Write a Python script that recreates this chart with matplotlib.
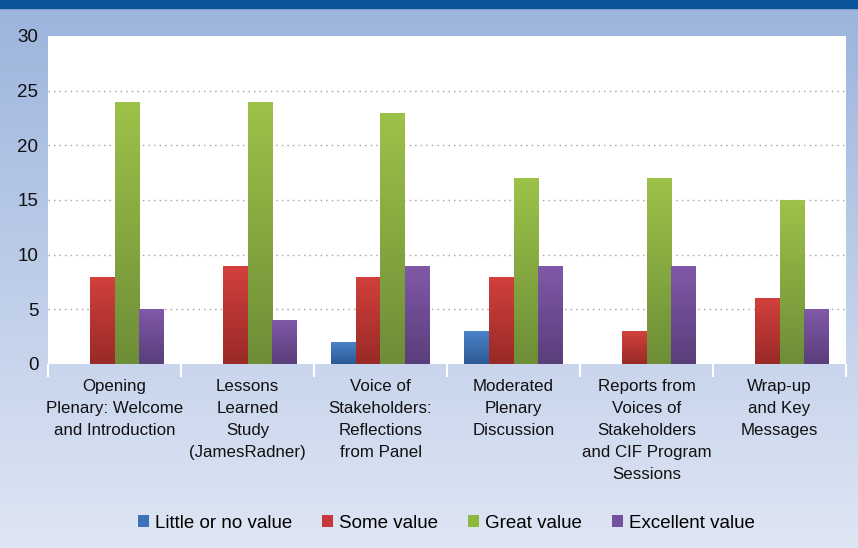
import numpy as np
import matplotlib.pyplot as plt
from matplotlib.colors import LinearSegmentedColormap
from matplotlib.patches import Patch

plt.rcParams['font.family'] = ['Liberation Sans', 'DejaVu Sans']

categories = ["Opening\nPlenary: Welcome\nand Introduction",
              "Lessons\nLearned\nStudy\n(JamesRadner)",
              "Voice of\nStakeholders:\nReflections\nfrom Panel",
              "Moderated\nPlenary\nDiscussion",
              "Reports from\nVoices of\nStakeholders\nand CIF Program\nSessions",
              "Wrap-up\nand Key\nMessages"]
series_names = ["Little or no value", "Some value", "Great value", "Excellent value"]
little = [0, 0, 2, 3, 0, 0]
some = [8, 9, 8, 8, 3, 6]
great = [24, 24, 23, 17, 17, 15]
excellent = [5, 4, 9, 9, 9, 5]
series = [little, some, great, excellent]

# top / bottom colours of each bar gradient
tops = ['#4c82c8', '#d2403c', '#9dc249', '#8059a8']
bottoms = ['#2c5a94', '#992a27', '#6d8e37', '#5a3e7b']
legend_colors = ['#3d71b8', '#c8383a', '#8db83e', '#7350a0']

fig = plt.figure(figsize=(8.58, 5.48), dpi=100)

# background gradient
bg = fig.add_axes([0, 0, 1, 1], zorder=-10)
bg_cmap = LinearSegmentedColormap.from_list('bg', ['#9bb4dd', '#dfe6f4'])
bg.imshow(np.linspace(0, 1, 256).reshape(-1, 1), aspect='auto', cmap=bg_cmap,
          extent=[0, 1, 0, 1])
bg.axhspan(1 - 8 / 548, 1, color='#0a5597')
bg.set_xlim(0, 1)
bg.set_ylim(0, 1)
bg.axis('off')

ax = fig.add_axes([48 / 858, 184 / 548, 798 / 858, 328 / 548])
ax.set_facecolor('white')

x = np.arange(len(categories))
w = 0.185
for i, vals in enumerate(series):
    pos = x + (i - 1.5) * w
    bars = ax.bar(pos, vals, w, color=legend_colors[i], label=series_names[i], zorder=2)
    cmap = LinearSegmentedColormap.from_list('g%d' % i, [bottoms[i], tops[i]])
    for b in bars:
        h = b.get_height()
        if h <= 0:
            continue
        im = ax.imshow(np.linspace(0, 1, 100).reshape(-1, 1), origin='lower', aspect='auto',
                       cmap=cmap, extent=[b.get_x(), b.get_x() + w, 0, h], zorder=3)
        im.set_clip_path(b)

ax.set_xlim(-0.5, len(categories) - 0.5)
ax.set_ylim(0, 30)
ax.set_yticks(range(0, 31, 5))
for yv in range(5, 30, 5):
    ax.axhline(yv, color='#a0a0a0', linestyle=(0, (1, 3)), linewidth=1, zorder=1)

ax.set_xticks(x)
ax.set_xticklabels(categories, fontsize=12.2, color='#111111', linespacing=1.58)
ax.set_xticks(np.arange(-0.5, len(categories)), minor=True)
ax.tick_params(axis='x', which='major', length=0, pad=11)
ax.tick_params(axis='x', which='minor', length=9, width=1.5, color='white', direction='out')
ax.tick_params(axis='y', length=0, pad=7, labelsize=13.5, labelcolor='#111111')
for s in ax.spines.values():
    s.set_visible(False)

handles = [Patch(facecolor=c, label=n) for c, n in zip(legend_colors, series_names)]
fig.legend(handles=handles, loc='center', bbox_to_anchor=(0.52, 25 / 548), ncol=4,
           frameon=False, fontsize=13.5, handlelength=0.6, handleheight=0.6,
           handletextpad=0.3, columnspacing=1.6)

fig.savefig('out.png', dpi=100)
